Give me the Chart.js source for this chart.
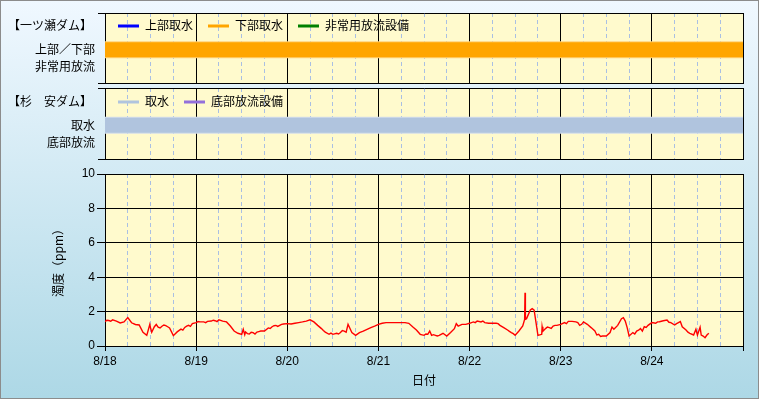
<!DOCTYPE html>
<html><head><meta charset="utf-8">
<script src="https://cdn.jsdelivr.net/npm/chart.js@4.4.0/dist/chart.umd.min.js"></script>
<style>
html,body{margin:0;padding:0;width:760px;height:400px;overflow:hidden;background:#fff;}
#bg{position:absolute;left:0;top:0;width:757px;height:397px;border:1px solid #8c8c8c;background:linear-gradient(to bottom,#f0f8ff,#add8e6);}
canvas{position:absolute;left:0;}
</style></head><body>
<div id="bg"></div>
<canvas id="c1" width="760" height="86" style="top:0px"></canvas>
<canvas id="c2" width="760" height="78" style="top:86px"></canvas>
<canvas id="c3" width="760" height="236" style="top:164px"></canvas>
<script>
// ---- data ----
const dateLabels = ['8/18','8/19','8/20','8/21','8/22','8/23','8/24'];
const tickHours = [0,6,12,18,24,30,36,42,48,54,60,66,72,78,84,90,96,102,108,114,120,126,132,138,144,150,156,162,168];
const yTicks = [0,2,4,6,8,10];

// Ichinose dam (一ツ瀬ダム)
const ichinoseLegend = ['上部取水','下部取水','非常用放流設備'];
const ichinoseRows = ['非常用放流','上部／下部'];
const lowerIntakeHours = [0,168];      // 下部取水 active period
const lowerIntakeLevel = 2;            // row 上部／下部
// Sugiyasu dam (杉安ダム)
const sugiyasuLegend = ['取水','底部放流設備'];
const sugiyasuRows = ['底部放流','取水'];
const intakeHours = [0,168];           // 取水 active period
const intakeLevel = 2;                 // row 取水

// turbidity (ppm), hourly from 8/18 00:00
const d18 = [1.42,1.48,1.52,1.45,1.34,1.40,1.65,1.35,1.25,1.22,0.80,0.62,1.05,1.12,1.10,1.15,1.18,1.05,0.60,0.82,0.98,1.08,1.20,1.30];
const d19 = [1.36,1.40,1.40,1.43,1.45,1.47,1.52,1.45,1.40,1.16,0.87,0.74,0.68,0.81,0.70,0.78,0.81,0.87,0.87,1.05,1.12,1.20,1.20,1.28];
const d20 = [1.30,1.28,1.32,1.36,1.40,1.45,1.52,1.40,1.20,1.01,0.81,0.68,0.68,0.74,0.78,0.87,1.26,0.78,0.62,0.78,0.87,0.97,1.07,1.16];
const d21 = [1.26,1.32,1.36,1.36,1.36,1.36,1.36,1.36,1.32,1.12,0.93,0.68,0.62,0.68,0.62,0.62,0.62,0.74,0.58,0.78,1.01,1.16,1.26,1.26];
const d22 = [1.32,1.40,1.45,1.40,1.36,1.32,1.32,1.32,1.20,1.07,0.93,0.78,0.62,0.87,1.16,1.59,2.09,2.09,0.62,0.68,1.01,1.07,1.16,1.20];
const d23 = [1.26,1.36,1.43,1.43,1.40,1.20,1.40,1.26,1.07,0.87,0.68,0.58,0.58,0.78,0.97,1.20,1.59,1.45,0.58,0.78,0.87,1.01,1.12,1.20];
const d24 = [1.36,1.32,1.41,1.47,1.51,1.36,1.22,1.36,1.12,0.93,0.74,0.64,0.64,0.64,0.48,0.74];
// extra readings between the hours (spikes / short fluctuations)
const extraHours  = [0.5,1.5,11.8,12.3,13.5,14.5,15.5,16.5,20.5,21.5,22.5,
  24.5,26.5,28.5,29.5,36.4,36.8,37.5,38.5,39.5,40.5,43.5,44.5,45.5,46.5,
  57.5,59.5,61.5,62.5,63.5,
  84.5,85.5,86.5,87.5,88.5,92.5,
  97.5,99.5,103.5,106.5,107.5,110.5,110.6,110.7,112.5,113.5,115.1,115.3,116.5,117.5,118.5,
  121.5,124.5,125.5,129.5,130.5,133.5,136.5,137.5,139.5,140.5,141.5,142.5,
  145.5,148.5,150.5,151.5,153.5,155.6,156.7,157.5,158.5];
const extraValues = [1.50,1.44,1.25,0.80,1.25,1.05,1.22,1.12,0.92,1.15,1.14,
  1.42,1.36,1.50,1.42,0.97,0.66,0.72,0.80,0.70,0.84,1.02,1.18,1.14,1.26,
  0.90,0.75,0.70,0.90,0.80,
  0.70,0.87,0.66,0.58,0.68,1.30,
  1.36,1.45,1.30,0.85,0.72,1.55,3.10,1.55,2.17,1.36,1.12,0.85,1.10,1.02,1.20,
  1.30,1.36,1.26,0.64,0.56,1.10,1.65,1.07,0.70,0.92,0.86,1.08,
  1.40,1.38,1.30,1.42,0.80,0.97,1.09,0.58,0.64];

// ---- helpers ----
const JP = '"Noto Sans CJK JP", sans-serif';
Chart.defaults.font.family = '"Liberation Sans", "Noto Sans CJK JP", sans-serif';
Chart.defaults.font.size = 12;
Chart.defaults.color = '#000';

const isMajor = c => c.tick && c.tick.value % 24 === 0;

function xScale(showLabels) {
  return {
    type: 'linear', min: 0, max: 168,
    afterBuildTicks: s => { s.ticks = tickHours.map(v => ({value: v})); },
    grid: {
      color: c => isMajor(c) ? '#000' : '#a9bfe3',
      lineWidth: 1,
      drawTicks: showLabels,
      tickLength: 5,
      tickColor: c => isMajor(c) ? '#000' : 'rgba(0,0,0,0)'
    },
    border: { color: '#000', width: 1, dash: c => (c.tick && c.tick.value % 24 !== 0) ? [4, 3] : [] },
    ticks: {
      display: showLabels, autoSkip: false, maxRotation: 0, minRotation: 0, padding: 3,
      color: '#000', font: {size: 12},
      callback: v => (v % 24 === 0 && v < 168) ? dateLabels[v / 24] : ''
    },
    title: showLabels ? { display: true, text: '日付', color: '#000', font: {size: 12, family: JP}, padding: {top: 0, bottom: 12} } : {display: false},
    afterFit: s => { s.height = showLabels ? 54 : 0; s.paddingLeft = 0; s.paddingRight = 0; }
  };
}

function rowScale(rows) {
  const edge = c => c.tick && (c.tick.value === 0 || c.tick.value === 4.2);
  return {
    type: 'linear', min: 0, max: 4.2,
    afterBuildTicks: s => { s.ticks = [0, 1, 2, 4.2].map(v => ({value: v})); },
    grid: { color: c => edge(c) ? '#000' : 'rgba(0,0,0,0)', tickLength: 7, tickColor: c => edge(c) ? '#000' : 'rgba(0,0,0,0)' },
    border: { color: '#000' },
    ticks: { padding: 3, color: '#000', font: {size: 12, family: JP}, callback: v => v === 1 ? rows[0] : (v === 2 ? rows[1] : '') },
    afterFit: s => { s.width = 105; s.paddingTop = 0; s.paddingBottom = 0; }
  };
}

const areaBg = {
  id: 'areaBg',
  beforeDraw(chart) {
    const a = chart.chartArea, ctx = chart.ctx;
    ctx.save(); ctx.fillStyle = '#fffacd'; ctx.fillRect(a.left, a.top, a.right - a.left, a.bottom - a.top); ctx.restore();
  }
};

const miniLegend = {
  id: 'miniLegend',
  afterDraw(chart, args, opts) {
    if (!opts || !opts.y) return;
    const ctx = chart.ctx;
    ctx.save();
    ctx.font = '12px ' + JP;
    ctx.textBaseline = 'middle';
    ctx.textAlign = 'left';
    ctx.fillStyle = '#000';
    if (opts.title) ctx.fillText(opts.title, opts.titleX, opts.y);
    let x = opts.x;
    chart.data.datasets.forEach(ds => {
      if (!ds.inLegend) return;
      ctx.fillStyle = ds.borderColor;
      ctx.fillRect(x, Math.round(opts.y) - 1.5, 21, 3);
      x += 27;
      ctx.fillStyle = '#000';
      ctx.fillText(ds.label, x, opts.y);
      x += ctx.measureText(ds.label).width + 15;
    });
    ctx.restore();
  }
};

function band(hours, level) { return hours.map(h => ({x: h, y: level})); }

const common = {
  responsive: false, animation: false, events: [],
  plugins: { legend: {display: false}, tooltip: {enabled: false} },
  elements: { point: {radius: 0}, line: {tension: 0} }
};

// ---- panel 1 ----
new Chart(document.getElementById('c1'), {
  type: 'line',
  data: { datasets: [
    { label: ichinoseLegend[0], data: [], borderColor: '#0000ff', inLegend: true },
    { label: ichinoseLegend[1], data: band(lowerIntakeHours, lowerIntakeLevel), borderColor: '#ffa500', borderWidth: 15, inLegend: true },
    { label: ichinoseLegend[2], data: [], borderColor: '#008000', inLegend: true },
    { label: 'edge', data: band(lowerIntakeHours, lowerIntakeLevel), borderColor: '#ffd27a', borderWidth: 17 }
  ]},
  options: Object.assign({}, common, {
    layout: { padding: {left: 0, right: 17, top: 13, bottom: 3} },
    scales: { x: xScale(false), y: rowScale(ichinoseRows) },
    plugins: Object.assign({}, common.plugins, { miniLegend: { x: 118, y: 25.5, title: '【一ツ瀬ダム】', titleX: 8 } })
  }),
  plugins: [areaBg, miniLegend]
});

// ---- panel 2 ----
new Chart(document.getElementById('c2'), {
  type: 'line',
  data: { datasets: [
    { label: sugiyasuLegend[0], data: band(intakeHours, intakeLevel), borderColor: '#b0c4de', borderWidth: 15, inLegend: true },
    { label: sugiyasuLegend[1], data: [], borderColor: '#9370db', inLegend: true },
    { label: 'edge', data: band(intakeHours, intakeLevel), borderColor: '#d3ddea', borderWidth: 17 }
  ]},
  options: Object.assign({}, common, {
    layout: { padding: {left: 0, right: 17, top: 2, bottom: 5} },
    scales: { x: xScale(false), y: rowScale(sugiyasuRows) },
    plugins: Object.assign({}, common.plugins, { miniLegend: { x: 118, y: 15.5, title: '【杉　安ダム】', titleX: 8 } })
  }),
  plugins: [areaBg, miniLegend]
});

// ---- panel 3 ----
const hourly = [].concat(d18, d19, d20, d21, d22, d23, d24);
const points = hourly.map((v, i) => ({x: i, y: v}))
  .concat(extraHours.map((h, i) => ({x: h, y: extraValues[i]})))
  .sort((a, b) => a.x - b.x);

new Chart(document.getElementById('c3'), {
  type: 'line',
  data: { datasets: [
    { label: '濁度', data: points, borderColor: '#ff0000', borderWidth: 1.4 }
  ]},
  options: Object.assign({}, common, {
    layout: { padding: {left: 0, right: 17, top: 10, bottom: 0} },
    scales: {
      x: xScale(true),
      y: {
        type: 'linear', min: 0, max: 10,
        afterBuildTicks: s => { s.ticks = yTicks.map(v => ({value: v})); },
        grid: { color: '#000', tickLength: 8, tickColor: '#000' },
        border: { color: '#000' },
        ticks: { padding: 2, color: '#000', font: {size: 12} },
        title: { display: true, text: '濁度（ppm）', color: '#000', font: {size: 12, family: JP}, padding: {top: 51, bottom: 0} },
        afterFit: s => { s.width = 105; s.paddingTop = 0; s.paddingBottom = 0; }
      }
    }
  }),
  plugins: [areaBg]
});
</script>
</body></html>
